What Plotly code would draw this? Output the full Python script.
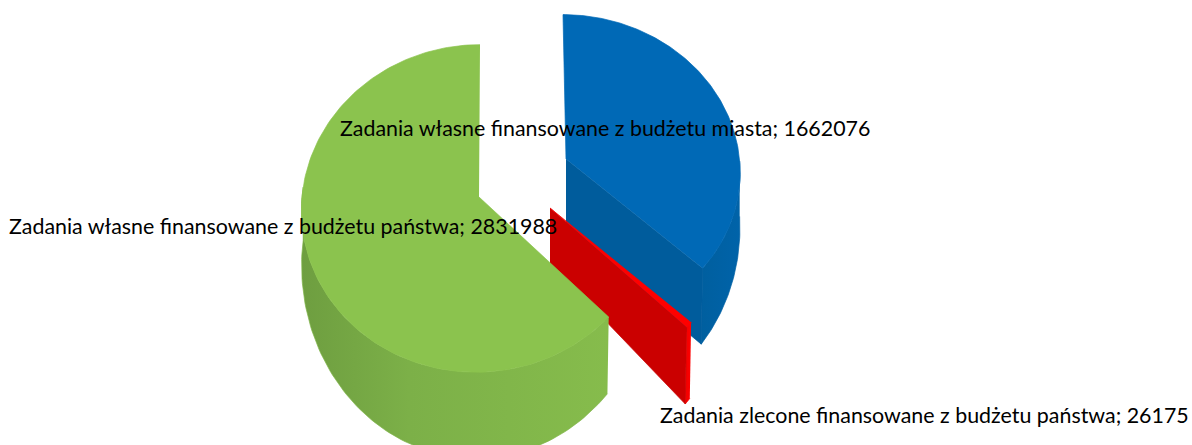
import numpy as np
import plotly.graph_objects as go

# ---- data ----
categories = [
    "Zadania własne finansowane z budżetu miasta",
    "Zadania zlecone finansowane z budżetu państwa",
    "Zadania własne finansowane z budżetu państwa",
]
values = [1662076, 26175, 2831988]

# ---- styles / projection of the tilted pie ----
TOP = ["#0069B6", "#FF0000", "#8BC34E"]
CUT = ["#005C9C", "#CB0000", "#7FB549"]
EDGE = ["#0060A4", "#F80000", "#7FB549"]
SIDE = [
    [[0, "#005F9F"], [1, "#0063A9"]],
    [[0, "#F00000"], [1, "#FF0000"]],
    [[0, "#6E9E40"], [0.35, "#7CB048"], [1, "#86BC4C"]],
]
APEX_X = [566, 550, 479]
APEX_Y = [159, 208, 197]
CENTER_X = [566, 550, 478]
RADIUS_X = [173.5, 182, 176]
RADIUS_Y = [154.5, 162, 163]
LEAN = [-3, 0, 2]
APEX_DEPTH = [72, 55, 55]
PERSPECTIVE = 0.07
DEPTH0, DEPTH1 = 55, 31
SHRINK = 0.014
LABEL_X = [338, 658, 7]
LABEL_Y = [128, 415, 226]
FONT = "Lato"
FONT_SIZE = 21.4


def project(i, theta, lower=False):
    u, v = np.sin(theta), np.cos(theta)
    s = 1 / (1 + PERSPECTIVE * v)
    dx = RADIUS_X[i] * u * s + LEAN[i] * v
    y = APEX_Y[i] - RADIUS_Y[i] * v * s
    if lower:
        dx = dx * (1 + SHRINK * np.minimum(v, 0))
        y = y + DEPTH0 - DEPTH1 * v
    return CENTER_X[i] + dx, y


def poly(xs, ys, color=None, gradient=None, edge=None):
    kw = dict(fillgradient=dict(type="horizontal", colorscale=gradient)) if gradient else dict(fillcolor=color)
    line = dict(width=0.7, color=edge) if edge else dict(width=0)
    return go.Scatter(x=list(xs), y=list(ys), mode="lines", fill="toself", line=line,
                      hoverinfo="skip", showlegend=False, **kw)


fig = go.Figure()
total = sum(values)
edges = np.concatenate([[0], np.cumsum(values)]) / total * 2 * np.pi

for i in range(len(values)):
    a, b = edges[i], edges[i + 1]
    arc = np.linspace(a, b, 160)
    # outer wall: only the part of the rim turned towards the viewer
    wall = arc[(arc > np.pi / 2) & (arc < 3 * np.pi / 2 + 0.08)]
    if len(wall) < 2:
        wall = np.linspace(max(a, np.pi / 2), min(b, 3 * np.pi / 2), 12)
    xt, yt = project(i, wall)
    xb, yb = project(i, wall, lower=True)
    fig.add_trace(poly(np.r_[xt, xb[::-1]], np.r_[yt, yb[::-1]], gradient=SIDE[i], edge=EDGE[i]))
    # radial cut at the end angle, facing the viewer (not for the slice that closes at the top)
    if b < np.pi * 1.5:
        xo, yo = project(i, b)
        xl, yl = project(i, b, lower=True)
        cx, cy = APEX_X[i], APEX_Y[i]
        fig.add_trace(poly([cx, xo, xl, cx], [cy, yo, yl, cy + APEX_DEPTH[i]], color=CUT[i], edge=CUT[i]))
    # top face
    xa, ya = project(i, arc)
    fig.add_trace(poly(np.r_[APEX_X[i], xa], np.r_[APEX_Y[i], ya], color=TOP[i], edge=TOP[i]))

for i, (name, val) in enumerate(zip(categories, values)):
    fig.add_annotation(x=LABEL_X[i], y=LABEL_Y[i], text=f"{name}; {val}", showarrow=False,
                       xanchor="left", yanchor="middle", xshift=0,
                       font=dict(family=FONT, size=FONT_SIZE, color="#000000"))

fig.update_layout(
    width=1192, height=445, margin=dict(l=0, r=0, t=0, b=0),
    paper_bgcolor="white", plot_bgcolor="white", showlegend=False,
    xaxis=dict(range=[0, 1192], visible=False, fixedrange=True),
    yaxis=dict(range=[445, 0], visible=False, fixedrange=True),
)
fig.write_html("out.html", config=dict(displayModeBar=False),
               post_script="document.body.style.margin='0';document.body.style.overflow='hidden';")
